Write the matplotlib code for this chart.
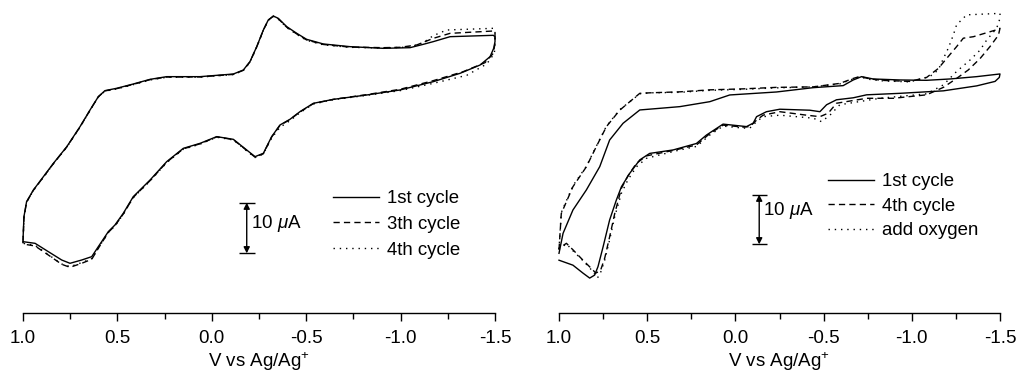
import matplotlib.pyplot as plt
from matplotlib.ticker import MultipleLocator

plt.rcParams["font.family"] = ["Liberation Sans", "DejaVu Sans"]
plt.rcParams["mathtext.fontset"] = "custom"
plt.rcParams["mathtext.rm"] = "Liberation Sans"
plt.rcParams["mathtext.it"] = "Liberation Sans:italic"
plt.rcParams["axes.unicode_minus"] = False

# ---------------- left panel (V vs Ag/Ag+, current in uA) ----------------
# 1st cycle
l1_fwd_v = [1.00, 0.995, 0.981, 0.945, 0.892, 0.839, 0.768, 0.698, 0.645, 0.601, 0.566, 0.504,
            0.416, 0.327, 0.239, 0.062, -0.114, -0.167, -0.202, -0.238, -0.273, -0.299, -0.326,
            -0.352, -0.397, -0.450, -0.502, -0.591, -0.732, -0.909, -1.050, -1.120, -1.173,
            -1.262, -1.491, -1.50]
l1_fwd_i = [2.63, 7.24, 10.20, 12.50, 15.13, 17.76, 21.05, 25.00, 28.29, 30.92, 32.11, 32.57,
            33.42, 34.34, 34.87, 34.87, 35.39, 36.18, 37.83, 40.79, 44.08, 46.05, 46.84,
            46.38, 44.74, 43.42, 42.24, 41.32, 40.79, 40.46, 40.59, 41.25, 41.78,
            42.76, 43.03, 42.76]
l1_rev_v = [-1.50, -1.493, -1.474, -1.421, -1.315, -1.173, -0.997, -0.820, -0.644, -0.538, -0.467,
            -0.414, -0.361, -0.317, -0.273, -0.229, -0.185, -0.114, -0.026, 0.062, 0.151, 0.239,
            0.327, 0.416, 0.469, 0.513, 0.548, 0.601, 0.636, 0.689, 0.751, 0.795, 0.866, 0.936, 1.00]
l1_rev_i = [41.78, 40.46, 38.82, 37.17, 35.53, 33.88, 32.24, 31.25, 30.39, 29.61, 27.96,
            26.45, 25.33, 23.03, 19.74, 19.08, 20.39, 22.50, 23.03, 21.71, 20.72, 18.09,
            14.47, 11.18, 7.89, 5.59, 4.28, 1.32, -0.66, -1.32, -1.97, -1.32, 0.33, 1.97, 2.30]

# 3th cycle
l3_fwd_v = [1.00, 0.995, 0.981, 0.945, 0.892, 0.839, 0.768, 0.698, 0.645, 0.601, 0.566, 0.504,
            0.416, 0.327, 0.239, 0.062, -0.114, -0.167, -0.202, -0.238, -0.273, -0.299, -0.326,
            -0.352, -0.397, -0.450, -0.502, -0.591, -0.732, -0.909, -0.997, -1.085, -1.173,
            -1.262, -1.491, -1.50]
l3_fwd_i = [2.11, 7.10, 10.10, 12.45, 15.05, 17.70, 21.00, 24.95, 28.25, 30.90, 32.05, 32.50,
            33.35, 34.28, 34.80, 34.82, 35.32, 36.12, 37.78, 40.75, 44.05, 46.02, 46.80,
            46.30, 44.62, 43.30, 42.12, 41.22, 40.70, 40.59, 40.66, 41.12, 42.43,
            43.42, 43.88, 43.68]
l3_rev_v = [-1.50, -1.491, -1.447, -1.332, -1.173, -0.997, -0.820, -0.644, -0.538, -0.467,
            -0.414, -0.361, -0.317, -0.273, -0.229, -0.185, -0.114, -0.026, 0.062, 0.151, 0.239,
            0.327, 0.416, 0.469, 0.513, 0.548, 0.601, 0.636, 0.689, 0.751, 0.795, 0.866, 0.936, 1.00]
l3_rev_i = [41.45, 39.47, 37.63, 35.86, 34.08, 32.37, 31.32, 30.39, 29.55, 27.90,
            26.40, 25.25, 22.95, 19.65, 18.98, 20.30, 22.45, 22.98, 21.62, 20.62, 17.98,
            14.35, 11.05, 7.75, 5.45, 4.14, 0.99, -1.18, -1.97, -2.76, -2.17, -0.33, 1.45, 1.84]

# 4th cycle
l4_fwd_v = [1.00, 0.995, 0.981, 0.945, 0.892, 0.839, 0.768, 0.698, 0.645, 0.601, 0.566, 0.504,
            0.416, 0.327, 0.239, 0.062, -0.114, -0.167, -0.202, -0.238, -0.273, -0.299, -0.326,
            -0.352, -0.397, -0.450, -0.502, -0.591, -0.732, -0.909, -1.050, -1.120, -1.173,
            -1.244, -1.491, -1.50]
l4_fwd_i = [1.97, 7.00, 10.05, 12.40, 15.00, 17.66, 20.95, 24.90, 28.20, 30.85, 32.00, 32.45,
            33.30, 34.22, 34.75, 34.78, 35.28, 36.08, 37.72, 40.70, 44.00, 46.00, 46.78,
            46.25, 44.55, 43.22, 42.05, 41.15, 40.66, 40.52, 40.72, 41.58, 42.96,
            44.08, 44.41, 44.21]
l4_rev_v = [-1.50, -1.497, -1.456, -1.350, -1.173, -0.997, -0.820, -0.644, -0.538, -0.467,
            -0.414, -0.361, -0.317, -0.273, -0.229, -0.185, -0.114, -0.026, 0.062, 0.151, 0.239,
            0.327, 0.416, 0.469, 0.513, 0.548, 0.601, 0.636, 0.689, 0.751, 0.795, 0.866, 0.936, 1.00]
l4_rev_i = [42.11, 39.47, 37.37, 35.13, 33.55, 32.11, 31.18, 30.33, 29.47, 27.76,
            26.18, 24.87, 22.76, 19.61, 18.90, 20.22, 22.38, 22.92, 21.55, 20.55, 17.90,
            14.28, 10.98, 7.70, 5.40, 4.10, 1.05, -1.05, -1.84, -2.63, -2.11, -0.26, 1.58, 1.97]

# ---------------- right panel ----------------
# 1st cycle
r1_fwd_v = [1.00, 0.977, 0.921, 0.845, 0.769, 0.713, 0.637, 0.542, 0.429, 0.315, 0.145, 0.032,
            -0.233, -0.441, -0.611, -0.668, -0.715, -0.781, -0.933, -1.084, -1.216, -1.368, -1.50]
r1_fwd_i = [-1.81, 2.21, 6.91, 10.94, 15.64, 21.00, 24.36, 27.05, 27.38, 27.72, 28.72, 30.07,
            30.67, 31.54, 31.95, 33.09, 33.76, 33.29, 33.09, 33.02, 33.29, 33.76, 34.30]
r1_rev_v = [-1.496, -1.472, -1.368, -1.179, -0.933, -0.744, -0.668, -0.573, -0.517, -0.479,
            -0.422, -0.252, -0.176, -0.120, -0.101, -0.063, 0.070, 0.164, 0.221, 0.353, 0.486,
            0.542, 0.599, 0.646, 0.675, 0.713, 0.750, 0.779, 0.798, 0.826, 0.864, 0.921, 1.00]
r1_rev_i = [33.6, 32.8, 31.9, 30.9, 30.4, 30.1, 29.5, 29.1, 28.1, 26.7,
            27.0, 27.2, 26.7, 25.7, 24.4, 23.7, 24.2, 22.0, 20.3, 19.0, 18.3,
            17.0, 14.3, 11.6, 8.9, 4.9, -0.5, -4.5, -6.2, -6.8, -5.8, -4.2, -3.2]

# 4th cycle
r4_fwd_v = [1.00, 0.987, 0.921, 0.845, 0.788, 0.731, 0.656, 0.542, 0.486, 0.315, 0.145, -0.044,
            -0.233, -0.441, -0.592, -0.668, -0.706, -0.762, -0.838, -0.989, -1.084, -1.150,
            -1.197, -1.254, -1.292, -1.349, -1.481, -1.50]
r4_fwd_i = [-1.1, 6.2, 11.6, 15.6, 19.7, 23.7, 27.0, 30.4, 30.5, 30.7, 31.1, 31.3,
            31.6, 31.7, 32.4, 33.4, 33.8, 33.3, 33.0, 32.8, 33.6, 35.4,
            37.4, 39.8, 41.5, 41.8, 43.2, 43.5]
r4_rev_v = [-1.491, -1.443, -1.387, -1.320, -1.254, -1.179, -1.084, -0.895, -0.744, -0.573,
            -0.526, -0.479, -0.403, -0.252, -0.157, -0.120, -0.082, -0.044, 0.070, 0.145, 0.221,
            0.353, 0.505, 0.561, 0.609, 0.646, 0.684, 0.713, 0.741, 0.765, 0.792, 0.807, 0.864,
            0.921, 0.958, 1.00]
r4_rev_i = [42.1, 39.8, 37.4, 35.1, 33.4, 31.6, 30.1, 29.4, 29.4, 28.4,
            26.4, 25.7, 26.0, 26.7, 26.0, 25.0, 23.7, 23.6, 24.0, 22.3, 20.0,
            18.9, 17.8, 16.3, 13.8, 11.3, 6.2, 1.5, -2.8, -5.3, -5.8, -5.2, -3.2,
            -1.1, 0.2, -0.8]

# add oxygen
ro_fwd_v = [1.00, 0.987, 0.921, 0.845, 0.788, 0.731, 0.656, 0.542, 0.486, 0.315, 0.145, -0.044,
            -0.233, -0.441, -0.592, -0.668, -0.706, -0.762, -0.838, -0.989, -1.103, -1.150,
            -1.179, -1.207, -1.235, -1.254, -1.311, -1.50]
ro_fwd_i = [-1.0, 6.4, 11.8, 15.7, 19.8, 23.8, 27.1, 30.3, 30.5, 30.6, 31.0, 31.2,
            31.5, 31.7, 32.3, 33.3, 33.7, 33.2, 32.9, 32.7, 33.8, 35.1,
            37.4, 39.5, 42.1, 44.2, 46.2, 46.5]
ro_rev_v = [-1.50, -1.481, -1.424, -1.387, -1.330, -1.254, -1.179, -1.084, -0.819, -0.592,
            -0.536, -0.488, -0.441, -0.252, -0.157, -0.120, -0.082, -0.044, 0.070, 0.145, 0.221,
            0.315, 0.429, 0.505, 0.561, 0.609, 0.646, 0.684, 0.713, 0.741, 0.769, 0.784, 0.807,
            0.864, 0.921, 0.958, 1.00]
ro_rev_i = [45.5, 43.5, 41.1, 39.1, 37.1, 34.8, 32.1, 30.3, 29.4, 28.1,
            26.0, 24.7, 25.4, 26.0, 25.7, 24.7, 23.4, 23.4, 23.8, 22.0, 19.7,
            19.0, 18.0, 17.3, 15.6, 13.0, 10.3, 5.6, 0.9, -3.2, -6.2, -6.8, -5.5,
            -3.3, -1.3, 0.1, -1.0]

left_labels = ["1st cycle", "3th cycle", "4th cycle"]
right_labels = ["1st cycle", "4th cycle", "add oxygen"]

SOLID = "-"
DASHED = (0, (4.5, 3))
DOTTED = (0, (1, 3.5))


def draw_panel(ax, curves, labels, ylim, bar_v, bar_half, text_i, leg_anchor, leg_space):
    styles = [SOLID, DASHED, DOTTED]
    handles = []
    for (fv, fi, rv, ri), ls, lab in zip(curves, styles, labels):
        (ln,) = ax.plot(fv + rv, fi + ri, color="black", lw=1.0, linestyle=ls,
                        label=lab, clip_on=False)
        handles.append(ln)

    ax.set_xlim(1.0, -1.5)
    ax.set_ylim(*ylim)
    for side in ["left", "right", "top"]:
        ax.spines[side].set_visible(False)
    ax.spines["bottom"].set_linewidth(1.0)
    ax.set_yticks([])
    ax.xaxis.set_major_locator(MultipleLocator(0.5))
    ax.xaxis.set_minor_locator(MultipleLocator(0.25))
    ax.xaxis.set_major_formatter(lambda x, pos: f"{x:.1f}")
    ax.tick_params(axis="x", which="major", direction="out", length=6, width=1.0,
                   labelsize=13.5, pad=6.5)
    ax.tick_params(axis="x", which="minor", direction="out", length=4, width=1.0)
    ax.set_xlabel("V vs Ag/Ag$^{+}$", fontsize=13.5, labelpad=2)

    # 10 uA scale bar
    ax.annotate("", xy=(bar_v, 10), xytext=(bar_v, 0),
                arrowprops=dict(arrowstyle="<|-|>", color="black", lw=1.0,
                                shrinkA=0, shrinkB=0, mutation_scale=9))
    ax.hlines([0, 10], bar_v + bar_half, bar_v - bar_half, color="black", lw=1.0)
    ax.annotate("10 $\\mu$A", xy=(bar_v, text_i), xytext=(3, 0),
                textcoords="offset points", ha="left", va="center", fontsize=13.5)

    ax.legend(handles=handles, loc="upper left", bbox_to_anchor=leg_anchor,
              frameon=False, fontsize=13.4, borderpad=0, borderaxespad=0,
              handlelength=2.45, handletextpad=0.45, labelspacing=leg_space)


fig = plt.figure(figsize=(10.16, 3.73), dpi=100)
ax_l = fig.add_axes([23 / 1016, 60 / 373, 472 / 1016, 313 / 373])
ax_r = fig.add_axes([559 / 1016, 60 / 373, 441 / 1016, 313 / 373])

draw_panel(ax_l,
           [(l1_fwd_v, l1_fwd_i, l1_rev_v, l1_rev_i),
            (l3_fwd_v, l3_fwd_i, l3_rev_v, l3_rev_i),
            (l4_fwd_v, l4_fwd_i, l4_rev_v, l4_rev_i)],
           left_labels, (-11.78, 50.0), -0.185, 0.042, 5.9, (0.657, 0.393), 0.48)
draw_panel(ax_r,
           [(r1_fwd_v, r1_fwd_i, r1_rev_v, r1_rev_i),
            (r4_fwd_v, r4_fwd_i, r4_rev_v, r4_rev_i),
            (ro_fwd_v, ro_fwd_i, ro_rev_v, ro_rev_i)],
           right_labels, (-13.83, 49.19), -0.135, 0.042, 6.9, (0.61, 0.447), 0.41)

fig.savefig("out.png", dpi=100)
